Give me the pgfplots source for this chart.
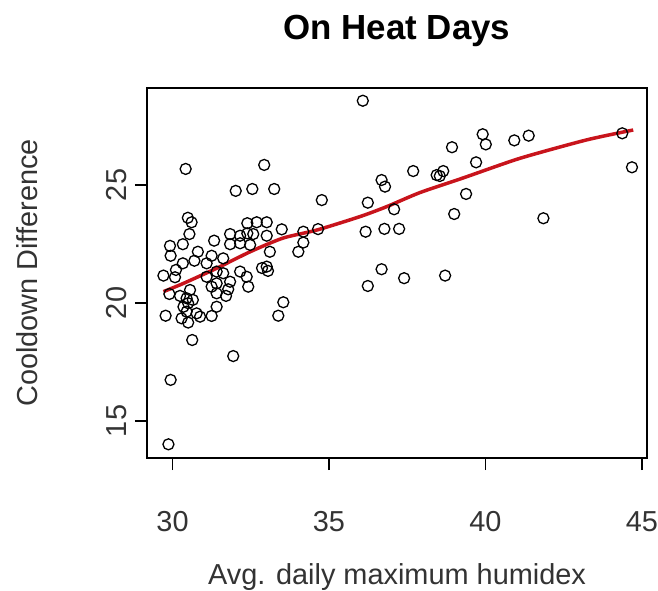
\documentclass[border=0pt]{standalone}
\usepackage{pgfplots}
\pgfplotsset{compat=1.18}
\usepackage{pgfplotstable}
\usepackage{fontspec}
\setmainfont{Liberation Sans}
\definecolor{lowessred}{HTML}{C8141C}
\definecolor{txtgray}{gray}{0.2}

% scatter points: humidex, cooldown difference
\pgfplotstableread{
x y
30.42 25.68
32.93 25.85
32.02 24.75
32.55 24.83
33.25 24.83
30.49 23.61
30.61 23.42
30.54 22.92
29.92 22.42
30.33 22.49
29.94 22.00
30.33 21.68
30.81 22.17
31.25 22.00
31.33 22.64
30.70 21.79
31.09 21.68
29.71 21.16
30.11 21.40
31.84 22.92
32.16 22.85
31.84 22.49
32.16 22.53
32.39 23.38
32.69 23.42
33.01 23.42
32.39 22.95
32.58 22.92
33.01 22.85
33.49 23.12
34.18 23.02
34.18 22.56
34.02 22.17
32.48 22.46
33.11 22.17
33.01 21.54
32.86 21.48
33.05 21.36
31.62 21.89
31.09 21.11
31.62 21.26
31.41 21.33
32.16 21.33
32.37 21.11
31.41 20.83
31.84 20.90
31.25 20.69
32.42 20.69
30.08 21.09
31.78 20.58
31.41 20.41
31.71 20.30
29.90 20.38
30.24 20.30
30.45 20.20
30.50 19.99
30.35 19.84
30.45 19.63
30.56 20.55
30.65 20.13
29.78 19.46
30.29 19.35
30.50 19.17
30.77 19.56
30.88 19.42
31.25 19.45
31.41 19.84
30.63 18.43
31.94 17.75
29.94 16.74
29.87 14.01
33.54 20.03
33.38 19.46
34.77 24.36
34.65 23.13
36.08 28.57
39.91 27.15
40.01 26.72
40.92 26.89
41.38 27.09
38.93 26.60
39.70 25.96
37.69 25.59
38.44 25.42
38.65 25.59
38.54 25.38
36.68 25.21
36.79 24.93
36.24 24.25
37.08 23.97
39.38 24.62
39.00 23.77
41.85 23.59
44.37 27.19
44.68 25.75
36.17 23.02
36.77 23.14
37.24 23.14
36.68 21.43
37.40 21.05
38.71 21.16
36.24 20.72
}\pointsdata

% lowess curve
\pgfplotstableread{
x y
29.71 20.48
30.35 20.83
31.41 21.47
32.48 22.17
33.53 22.75
34.61 23.09
35.99 23.66
36.84 24.08
37.91 24.68
39.29 25.30
41.10 26.13
43.23 26.91
44.72 27.33
}\lowessdata

\begin{document}
\begin{tikzpicture}
\useasboundingbox (-147bp,-133bp) rectangle (511bp,458bp);
\begin{axis}[
    scale only axis,
    width=500bp, height=370bp,
    xmin=29.185, xmax=45.16,
    ymin=13.43, ymax=29.11,
    xtick={30,35,40,45},
    ytick={15,20,25},
    xtick pos=lower, ytick pos=left,
    tick align=outside,
    major tick length=12bp,
    tick style={line width=1.2bp, black},
    axis line style={line width=1.3bp, black},
    /pgf/number format/assume math mode=true,
    every tick label/.append style={font=\fontsize{29}{33}\selectfont, text=txtgray},
    xticklabel style={anchor=base, yshift=-61bp},
    yticklabel style={rotate=90, anchor=base, yshift=8bp},
    title={On Heat Days},
    title style={font=\bfseries\fontsize{35}{39}\selectfont, at={(0.5,1)}, anchor=base, yshift=43bp},
    xlabel={Avg. daily maximum humidex},
    ylabel={Cooldown Difference},
    label style={font=\fontsize{29}{33}\selectfont, text=txtgray},
    xlabel style={at={(0.5,0)}, anchor=base, yshift=-126bp},
    ylabel style={at={(0,0.5)}, anchor=base, yshift=109bp},
    clip=false,
]
\addplot[only marks, mark=o, mark size=5.5bp, mark options={line width=1.3bp, black}]
    table[x=x, y=y] {\pointsdata};
\addplot[lowessred, line width=3.5bp, smooth, tension=0.4] table[x=x, y=y] {\lowessdata};
\end{axis}
\end{tikzpicture}
\end{document}
